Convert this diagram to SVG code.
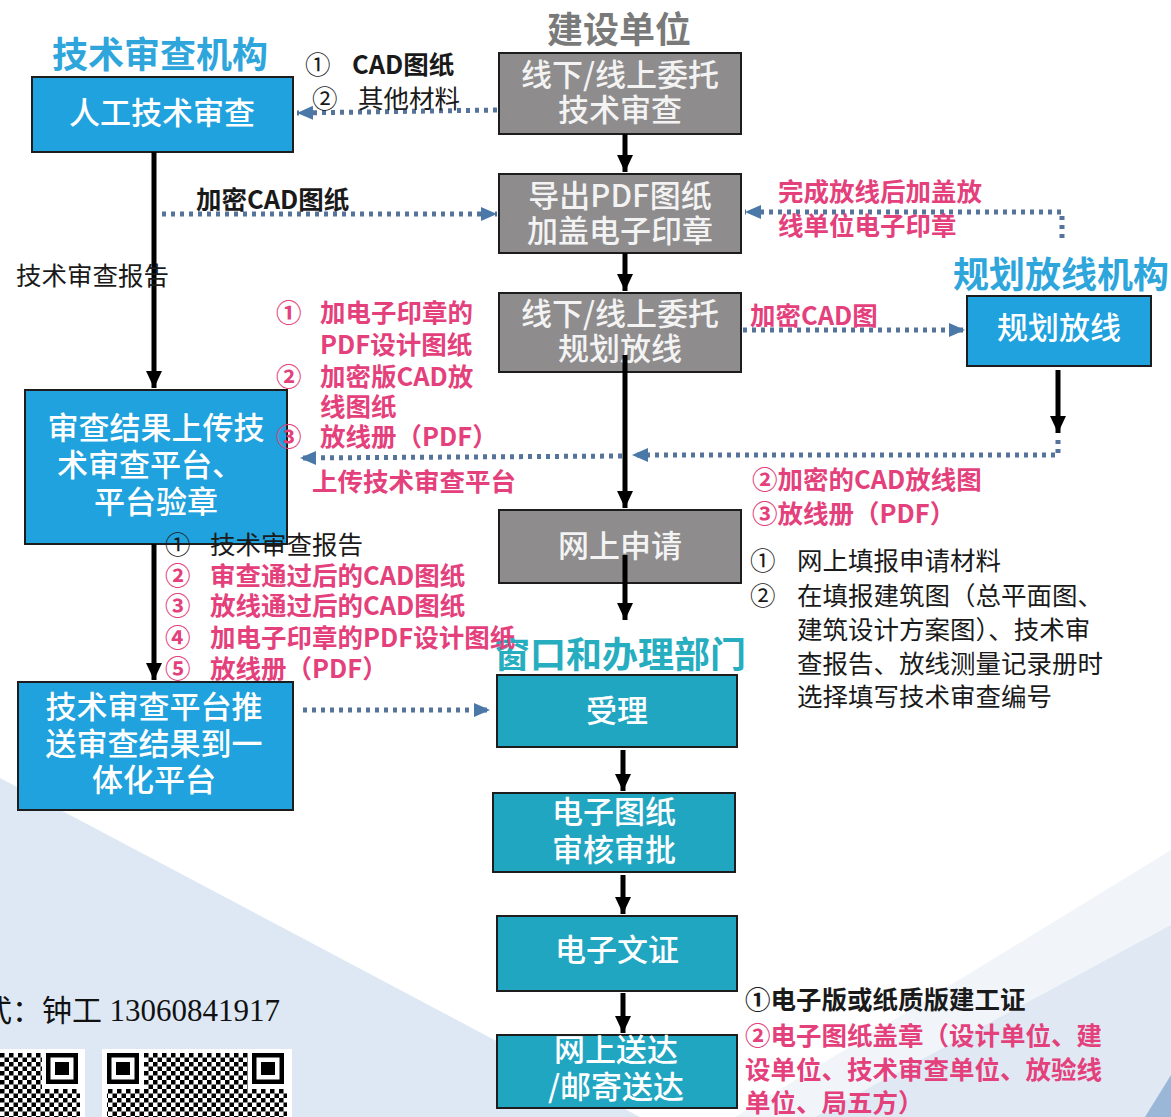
<svg xmlns="http://www.w3.org/2000/svg" width="1171" height="1117" viewBox="0 0 1171 1117">
<defs>
<style>
.t{font-family:"Noto Sans CJK SC","Liberation Sans",sans-serif;}
.box-blue{fill:#1fa2dd;stroke:#1d1d1d;stroke-width:2;}
.box-gray{fill:#8e8c8c;stroke:#1d1d1d;stroke-width:2;}
.box-teal{fill:#21a6c1;stroke:#1d1d1d;stroke-width:2;}
.bt{font-family:"Noto Sans CJK SC","Liberation Sans",sans-serif;font-size:31px;font-weight:500;fill:#ffffff;text-anchor:middle;}
.gt{font-family:"Noto Sans CJK SC","Liberation Sans",sans-serif;font-size:31px;font-weight:500;fill:#f3f3f3;text-anchor:middle;}
.title{font-family:"Noto Sans CJK SC","Liberation Sans",sans-serif;font-size:36px;font-weight:700;}
.lbl{font-family:"Noto Sans CJK SC","Liberation Sans",sans-serif;font-size:25.5px;}
.pink{fill:#e4417c;font-weight:700;}
.blk{fill:#1a1a1a;}
.bold{font-weight:700;}
.solid{stroke:#000;stroke-width:5;fill:none;marker-end:url(#ah);}
.dot{stroke:#55739b;stroke-width:5;fill:none;stroke-dasharray:4 5;marker-end:url(#dh);}
</style>
<marker id="ah" markerUnits="userSpaceOnUse" markerWidth="18" markerHeight="18" refX="17" refY="9" orient="auto">
<path d="M0,1 L17,9 L0,17 Z" fill="#000"/>
</marker>
<marker id="dh" markerUnits="userSpaceOnUse" markerWidth="18" markerHeight="18" refX="16" refY="9" orient="auto">
<path d="M0,2 L16,9 L0,16 Z" fill="#4a78a8"/>
</marker>
<pattern id="qr" width="18" height="18" patternUnits="userSpaceOnUse">
<rect width="18" height="18" fill="#fff"/>
<rect x="0" y="0" width="4.5" height="4.5" fill="#000"/>
<rect x="9" y="0" width="4.5" height="4.5" fill="#000"/>
<rect x="4.5" y="4.5" width="4.5" height="4.5" fill="#000"/>
<rect x="13.5" y="4.5" width="4.5" height="4.5" fill="#000"/>
<rect x="0" y="9" width="4.5" height="4.5" fill="#000"/>
<rect x="9" y="9" width="4.5" height="4.5" fill="#000"/>
<rect x="4.5" y="13.5" width="4.5" height="4.5" fill="#000"/>
<rect x="13.5" y="13.5" width="4.5" height="4.5" fill="#000"/>
</pattern>
</defs>

<g id="background">
<rect x="0" y="0" width="1171" height="1117" fill="#ffffff"/>
<polygon points="0,778 640,1117 0,1117" fill="#dde8f4"/>
<polygon points="1171,850 735,1117 1171,1117" fill="#f1f5fa"/>
<polygon points="1171,925 815,1117 1171,1117" fill="#dfe8f3"/>
<polygon points="1171,1075 1145,1117 1171,1117" fill="#9ab7d8"/>
</g>

<g id="titles">
<text class="title" x="160" y="68" text-anchor="middle" fill="#2ea6dc">技术审查机构</text>
<text class="title" x="619" y="43" text-anchor="middle" fill="#7a7a7a">建设单位</text>
<text class="title" x="1061" y="288" text-anchor="middle" fill="#2ea6dc">规划放线机构</text>
<text class="title" x="620" y="668" text-anchor="middle" fill="#27adc0">窗口和办理部门</text>
</g>

<g id="node-manual-review">
<rect class="box-blue" x="32" y="77" width="261" height="75"/>
<text class="bt" x="162" y="124">人工技术审查</text>
</g>
<g id="node-upload-result">
<rect class="box-blue" x="25" y="390" width="262" height="154"/>
<text class="bt" x="156" y="439">审查结果上传技</text>
<text class="bt" x="150" y="476">术审查平台、</text>
<text class="bt" x="156" y="513">平台验章</text>
</g>
<g id="node-push-result">
<rect class="box-blue" x="18" y="682" width="275" height="128"/>
<text class="bt" x="154" y="718">技术审查平台推</text>
<text class="bt" x="154" y="755">送审查结果到一</text>
<text class="bt" x="154" y="791">体化平台</text>
</g>
<g id="node-entrust-review">
<rect class="box-gray" x="499" y="53" width="242" height="81"/>
<text class="gt" x="620" y="86">线下/线上委托</text>
<text class="gt" x="620" y="121">技术审查</text>
</g>
<g id="node-export-pdf">
<rect class="box-gray" x="499" y="174" width="242" height="79"/>
<text class="gt" x="620" y="207">导出PDF图纸</text>
<text class="gt" x="620" y="242">加盖电子印章</text>
</g>
<g id="node-entrust-layout">
<rect class="box-gray" x="499" y="293" width="242" height="79"/>
<text class="gt" x="620" y="325">线下/线上委托</text>
<text class="gt" x="620" y="360">规划放线</text>
</g>
<g id="node-online-apply">
<rect class="box-gray" x="499" y="510" width="242" height="73"/>
<text class="gt" x="620" y="557">网上申请</text>
</g>
<g id="node-layout">
<rect class="box-blue" x="967" y="296" width="184" height="70"/>
<text class="bt" x="1059" y="339">规划放线</text>
</g>
<g id="node-accept">
<rect class="box-teal" x="497" y="675" width="240" height="72"/>
<text class="bt" x="617" y="722">受理</text>
</g>
<g id="node-approve">
<rect class="box-teal" x="493" y="793" width="242" height="79"/>
<text class="bt" x="614" y="823">电子图纸</text>
<text class="bt" x="614" y="861">审核审批</text>
</g>
<g id="node-cert">
<rect class="box-teal" x="497" y="916" width="240" height="75"/>
<text class="bt" x="617" y="961">电子文证</text>
</g>
<g id="node-deliver">
<rect class="box-teal" x="497" y="1035" width="240" height="73"/>
<text class="bt" x="616" y="1061">网上送达</text>
<text class="bt" x="616" y="1098">/邮寄送达</text>
</g>

<g id="connectors">
<path class="dot" d="M497,110 L297,113"/>
<path class="dot" d="M162,214 L497,214"/>
<path class="dot" d="M1062,238 L1062,212 L745,212"/>
<path class="dot" d="M743,330 L965,330"/>
<path class="dot" d="M1058,440 L1058,455 L632,455"/>
<path class="dot" d="M622,456 L300,458"/>
<path class="dot" d="M303,710 L490,710"/>
<path class="solid" d="M154,152 L154,388"/>
<path class="solid" d="M154,544 L154,680"/>
<path class="solid" d="M625,134 L625,172"/>
<path class="solid" d="M625,253 L625,291"/>
<path class="solid" d="M625,355 L625,508"/>
<path class="solid" d="M625,555 L625,620"/>
<path class="solid" d="M1058,370 L1058,433"/>
<path class="solid" d="M623,750 L623,791"/>
<path class="solid" d="M623,875 L623,914"/>
<path class="solid" d="M623,993 L623,1033"/>
</g>

<g id="labels">
<text class="lbl blk" x="305" y="74">①</text>
<text class="lbl blk bold" x="352" y="74">CAD图纸</text>
<text class="lbl blk" x="312" y="108">②</text>
<text class="lbl blk" x="358" y="108">其他材料</text>
<text class="lbl blk bold" x="196" y="209">加密CAD图纸</text>
<text class="lbl blk" x="16" y="285">技术审查报告</text>
<text class="lbl pink" x="778" y="201">完成放线后加盖放</text>
<text class="lbl pink" x="778" y="235">线单位电子印章</text>
<text class="lbl pink" x="750" y="325">加密CAD图</text>
<text class="lbl pink" x="276" y="322" font-weight="400">①</text>
<text class="lbl pink" x="320" y="322">加电子印章的</text>
<text class="lbl pink" x="320" y="354">PDF设计图纸</text>
<text class="lbl pink" x="276" y="386" font-weight="400">②</text>
<text class="lbl pink" x="320" y="386">加密版CAD放</text>
<text class="lbl pink" x="320" y="416">线图纸</text>
<text class="lbl pink" x="276" y="446" font-weight="400">③</text>
<text class="lbl pink" x="320" y="446">放线册（PDF）</text>
<text class="lbl pink" x="312" y="491">上传技术审查平台</text>
<text class="lbl pink" x="752" y="489">②加密的CAD放线图</text>
<text class="lbl pink" x="752" y="523">③放线册（PDF）</text>
<text class="lbl blk" x="750" y="570">①</text>
<text class="lbl blk" x="797" y="570">网上填报申请材料</text>
<text class="lbl blk" x="750" y="605">②</text>
<text class="lbl blk" x="797" y="605">在填报建筑图（总平面图、</text>
<text class="lbl blk" x="797" y="639">建筑设计方案图）、技术审</text>
<text class="lbl blk" x="797" y="673">查报告、放线测量记录册时</text>
<text class="lbl blk" x="797" y="706">选择填写技术审查编号</text>
<text class="lbl blk" x="165" y="554">①</text>
<text class="lbl blk" x="210" y="554">技术审查报告</text>
<text class="lbl pink" x="165" y="585" font-weight="400">②</text>
<text class="lbl pink" x="210" y="585">审查通过后的CAD图纸</text>
<text class="lbl pink" x="165" y="615" font-weight="400">③</text>
<text class="lbl pink" x="210" y="615">放线通过后的CAD图纸</text>
<text class="lbl pink" x="165" y="647" font-weight="400">④</text>
<text class="lbl pink" x="210" y="647">加电子印章的PDF设计图纸</text>
<text class="lbl pink" x="165" y="678" font-weight="400">⑤</text>
<text class="lbl pink" x="210" y="678">放线册（PDF）</text>
<text class="lbl blk bold" x="745" y="1009">①电子版或纸质版建工证</text>
<text class="lbl pink" x="745" y="1045">②电子图纸盖章（设计单位、建</text>
<text class="lbl pink" x="745" y="1079">设单位、技术审查单位、放验线</text>
<text class="lbl pink" x="745" y="1112">单位、局五方）</text>
</g>

<g id="footer">
<text x="-18" y="1021" font-family="'Liberation Serif','Noto Sans CJK SC',serif" font-size="30" fill="#111">式：钟工 <tspan font-size="31">13060841917</tspan></text>
<g id="qr1">
<rect x="0" y="1049" width="85" height="68" fill="#fff"/>
<rect x="0" y="1053" width="80" height="64" fill="url(#qr)"/>
<rect x="42" y="1049" width="43" height="40" fill="#fff"/>
<rect x="46" y="1053" width="32" height="31" fill="#000"/>
<rect x="50.5" y="1057.5" width="23" height="22" fill="#fff"/>
<rect x="55" y="1062" width="14" height="13" fill="#000"/>
</g>
<g id="qr2">
<rect x="102" y="1049" width="190" height="68" fill="#fff"/>
<rect x="107" y="1053" width="180" height="64" fill="url(#qr)"/>
<rect x="102" y="1049" width="42" height="40" fill="#fff"/>
<rect x="248" y="1049" width="44" height="40" fill="#fff"/>
<rect x="107" y="1053" width="32" height="31" fill="#000"/>
<rect x="111.5" y="1057.5" width="23" height="22" fill="#fff"/>
<rect x="116" y="1062" width="14" height="13" fill="#000"/>
<rect x="252" y="1053" width="32" height="31" fill="#000"/>
<rect x="256.5" y="1057.5" width="23" height="22" fill="#fff"/>
<rect x="261" y="1062" width="14" height="13" fill="#000"/>
</g>
</g>
</svg>
